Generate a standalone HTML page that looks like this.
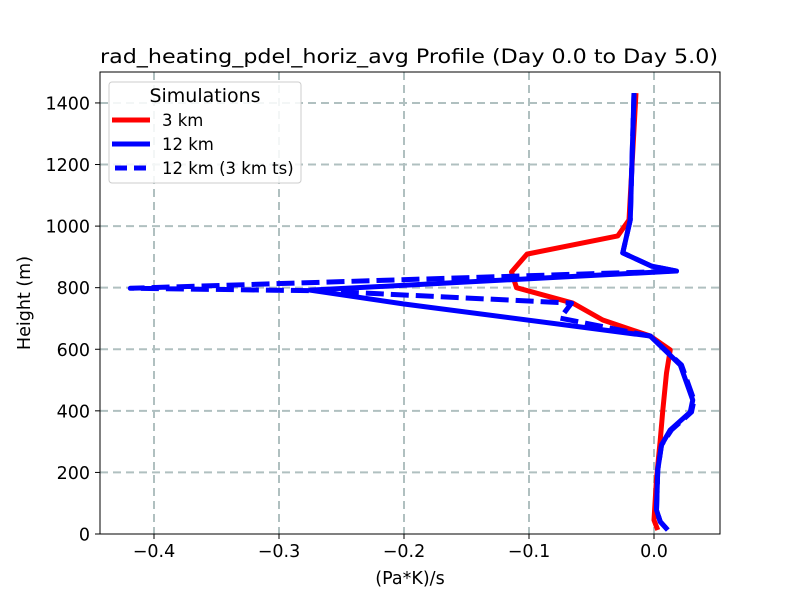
<!DOCTYPE html>
<html><head><meta charset="utf-8"><style>
body{margin:0;background:#fff}
svg{font-family:"DejaVu Sans","Liberation Sans",sans-serif;display:block}
</style></head><body>
<svg id="chart" width="800" height="600" viewBox="0 0 800 600">
<rect width="800" height="600" fill="#fff"/>
<text x="409" y="63" font-size="19.5" text-anchor="middle" textLength="618" lengthAdjust="spacingAndGlyphs">rad_heating_pdel_horiz_avg Profile (Day 0.0 to Day 5.0)</text>
<g id="grid"></g>
<g id="series"></g>
<rect x="100" y="72" width="620" height="462" fill="none" stroke="#000" stroke-width="1"/>
<g id="ticks"></g>
<text x="410" y="584" font-size="17.5" text-anchor="middle">(Pa*K)/s</text>
<text transform="translate(30,303) rotate(-90)" font-size="17.5" text-anchor="middle">Height (m)</text>
<g>
<rect x="109" y="82" width="192" height="101" rx="3" fill="#fff" fill-opacity="0.85" stroke="#ccc"/>
<text x="205" y="102" font-size="19" text-anchor="middle">Simulations</text>
<line x1="112" y1="120" x2="150" y2="120" stroke="#f00" stroke-width="5"/>
<text x="162" y="126" font-size="16.5">3 km</text>
<line x1="112" y1="144" x2="150" y2="144" stroke="#00f" stroke-width="5"/>
<text x="162" y="150" font-size="16.5">12 km</text>
<line x1="115" y1="168" x2="150" y2="168" stroke="#00f" stroke-width="5" stroke-dasharray="12,7"/>
<text x="162" y="174" font-size="16.5">12 km (3 km ts)</text>
</g>
</svg>
<script>
const xTicks=[-0.4,-0.3,-0.2,-0.1,0.0];
const xTickLabels=["\u22120.4","\u22120.3","\u22120.2","\u22120.1","0.0"];
const yTicks=[0,200,400,600,800,1000,1200,1400];
const h3km=[1432,1020,968,909,851,800,750,695,643,598,523,400,305,180,45,13];
const v3km=[-0.0144,-0.02,-0.029,-0.1016,-0.114,-0.11,-0.065,-0.041,-0.003,0.013,0.010,0.007,0.005,0.002,0.0,0.003];
const h12km=[1432,1020,913,870,854,792,747,643,549,435,396,338,289,208,78,40,13];
const v12km=[-0.016,-0.019,-0.025,-0.002,0.018,-0.275,-0.2,-0.003,0.021,0.031,0.029,0.013,0.006,0.003,0.002,0.005,0.011];
const h12ts=[1432,1020,913,870,854,798,790,750,701,643,549,435,396,338,289,208,78,40,13];
const v12ts=[-0.016,-0.019,-0.025,-0.002,0.018,-0.419,-0.27,-0.066,-0.075,-0.003,0.022,0.032,0.030,0.014,0.006,0.003,0.002,0.005,0.011];
const NS="http://www.w3.org/2000/svg";
function X(v){return 654+1250*v;}
function Y(h){return 534-0.3079*h;}
const grid=document.getElementById('grid'),ticks=document.getElementById('ticks'),ser=document.getElementById('series');
function mk(tag,attrs,parent){const e=document.createElementNS(NS,tag);for(const k in attrs)e.setAttribute(k,attrs[k]);parent.appendChild(e);return e;}
xTicks.forEach((t,i)=>{
  const g=mk('line',{x1:X(t),x2:X(t),y1:72,y2:534,stroke:'#b0c0c0','stroke-width':2,'stroke-dasharray':'8,5'},grid);
  
  
  const tk=mk('line',{x1:X(t),x2:X(t),y1:534,y2:539,stroke:'#000'},ticks);
  
  
  const tx=mk('text',{x:X(t),y:557,'font-size':17.5,'text-anchor':'middle'},ticks);
  tx.textContent=xTickLabels[i];
  
  
});
yTicks.forEach(t=>{
  if(t>0){const g=mk('line',{x1:100,x2:720,y1:Y(t),y2:Y(t),stroke:'#b0c0c0','stroke-width':2,'stroke-dasharray':'8,5'},grid);
  
  }
  const tk=mk('line',{x1:95,x2:100,y1:Y(t),y2:Y(t),stroke:'#000'},ticks);
  
  
  const tx=mk('text',{x:90,y:Y(t)+6.5,'font-size':17.5,'text-anchor':'end'},ticks);
  tx.textContent=t;
  
  
});
function line(hs,vs,color,dash,name){
  const p=mk('polyline',{points:hs.map((h,i)=>X(vs[i])+','+Y(h)).join(' '),fill:'none',stroke:color,'stroke-width':5,'stroke-linejoin':'round'},ser);
  if(dash)p.setAttribute('stroke-dasharray',dash);
  
  
}
line(h3km,v3km,'#f00',null,'line-3km');
line(h12km,v12km,'#00f',null,'line-12km');
line(h12ts,v12ts,'#00f','18,7','line-12km-3kmts');
</script>
</body></html>
